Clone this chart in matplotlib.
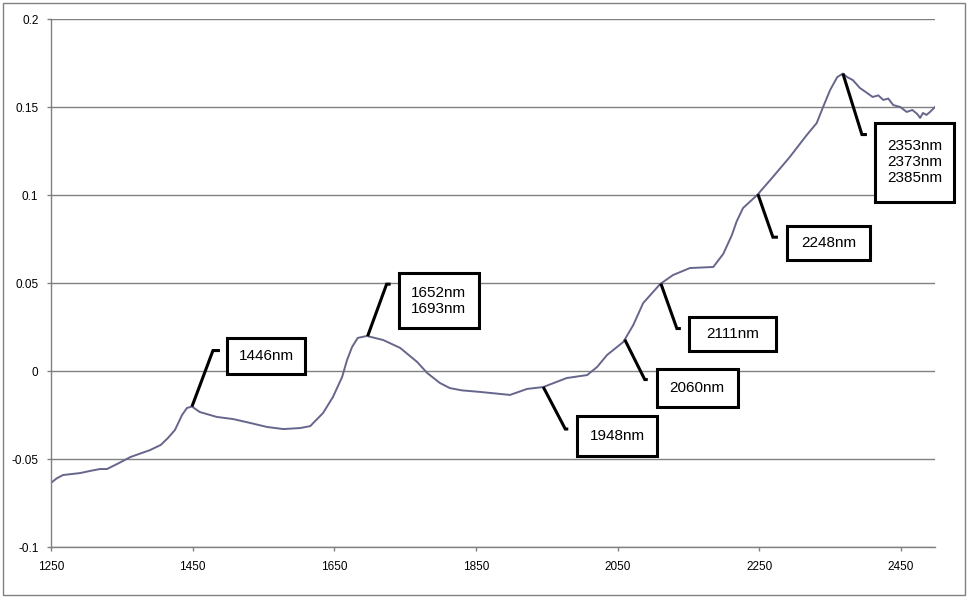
import numpy as np
import matplotlib.pyplot as plt
from matplotlib.patches import Rectangle
from matplotlib.lines import Line2D
from matplotlib.transforms import IdentityTransform

plt.rcParams['font.family'] = ['Liberation Sans', 'DejaVu Sans']

# spectrum (wavelength nm, absorbance)
wl = [1250, 1258, 1267, 1291, 1305, 1319, 1329, 1345, 1362, 1390, 1405,
      1415, 1425, 1435, 1442, 1449, 1460, 1484, 1507, 1531, 1555, 1578,
      1602, 1616, 1634, 1648, 1661, 1668, 1675, 1683, 1696, 1719, 1743,
      1767, 1781, 1799, 1813, 1830, 1856, 1898, 1922, 1945, 1978, 2007,
      2021, 2035, 2058, 2072, 2086, 2110, 2128, 2152, 2185, 2199, 2211,
      2218, 2227, 2247, 2269, 2293, 2317, 2331, 2340, 2350, 2360, 2368,
      2374, 2382, 2392, 2402, 2410, 2418, 2425, 2432, 2439, 2449, 2458,
      2466, 2473, 2477, 2481, 2486, 2491, 2498]
ab = [-0.0636, -0.0610, -0.0591, -0.0580, -0.0568, -0.0557, -0.0557, -0.0525,
      -0.0489, -0.0449, -0.0420, -0.0381, -0.0335, -0.0250, -0.0210, -0.0202,
      -0.0233, -0.0261, -0.0273, -0.0295, -0.0318, -0.0330, -0.0324, -0.0313,
      -0.0239, -0.0148, -0.0034, 0.0063, 0.0136, 0.0188, 0.0199, 0.0176,
      0.0131, 0.0051, -0.0011, -0.0068, -0.0097, -0.0110, -0.0119, -0.0136,
      -0.0102, -0.0091, -0.0040, -0.0023, 0.0023, 0.0091, 0.0165, 0.0261,
      0.0386, 0.0494, 0.0545, 0.0585, 0.0591, 0.0665, 0.0770, 0.0850, 0.0926,
      0.1000, 0.1102, 0.1216, 0.1341, 0.1409, 0.1500, 0.1597, 0.1670, 0.1690,
      0.1670, 0.1653, 0.1608, 0.1580, 0.1557, 0.1566, 0.1540, 0.1548, 0.1511,
      0.1500, 0.1472, 0.1483, 0.1460, 0.1438, 0.1466, 0.1455, 0.1472, 0.1500]

xticks = [1250, 1450, 1650, 1850, 2050, 2250, 2450]
yticks = [-0.1, -0.05, 0, 0.05, 0.1, 0.15, 0.2]
ylabels = ['-0.1', '-0.05', '0', '0.05', '0.1', '0.15', '0.2']

# callouts: text, wavelength on curve
labels = ['1446nm', '1652nm\n1693nm', '1948nm', '2060nm', '2111nm',
          '2248nm', '2353nm\n2373nm\n2385nm']
label_wl = [1449, 1697, 1945, 2060, 2111, 2248, 2368]
# leader elbow (dx, dy), tick length, box (dx, dy, w, h) in pixels, y down
elbow = [(21, -56), (19, -52), (22, 42), (20, 40), (16, 45), (15, 43), (19, 61)]
tick = [7, 4, 3, 3, 4, 5, 5]
box = [(35, -69, 78, 36), (31, -63, 80, 55), (34, 29, 80, 40), (32, 29, 81, 38),
       (28, 33, 87, 34), (29, 32, 83, 34), (32, 49, 79, 79)]

W, H = 973, 600
fig = plt.figure(figsize=(W / 100, H / 100), dpi=100)
ax = fig.add_axes([51 / W, 53 / H, 884 / W, 528 / H])

ax.plot(wl, ab, color='#66668c', lw=1.4)
ax.set_xlim(1250, 2498)
ax.set_ylim(-0.1, 0.2)
ax.set_xticks(xticks)
ax.set_xticklabels([str(t) for t in xticks])
ax.set_yticks(yticks)
ax.set_yticklabels(ylabels)
ax.yaxis.grid(True, color='#808080', lw=1)
ax.set_axisbelow(True)
for s in ['top', 'right']:
    ax.spines[s].set_visible(False)
for s in ['left', 'bottom']:
    ax.spines[s].set_color('#808080')
    ax.spines[s].set_linewidth(1)
ax.tick_params(colors='#808080', labelcolor='black', labelsize=8.5,
               length=3, width=1, direction='out')
ax.tick_params(axis='y', pad=6)
ax.tick_params(axis='x', pad=7)

# outer chart border
fig.add_artist(Rectangle((3 / W, 5 / H), 962 / W, 592 / H, transform=fig.transFigure,
                         fill=False, ec='#808080', lw=1))

ident = IdentityTransform()
for txt, x0, (ex, ey), t, (bx, by, bw, bh) in zip(labels, label_wl, elbow, tick, box):
    y0 = np.interp(x0, wl, ab)
    px, py = ax.transData.transform((x0, y0))
    fig.add_artist(Line2D([px, px + ex, px + ex + t], [py, py - ey, py - ey],
                          transform=ident, color='black', lw=2.2,
                          solid_capstyle='butt', solid_joinstyle='miter'))
    fig.add_artist(Rectangle((px + bx, py - by - bh), bw, bh, transform=ident,
                             fc='white', ec='black', lw=2.2))
    fig.text(px + bx + bw / 2, py - by - bh / 2, txt, transform=ident,
             ha='center', va='center', fontsize=11, linespacing=1.2)

fig.savefig('out.png', dpi=100)
